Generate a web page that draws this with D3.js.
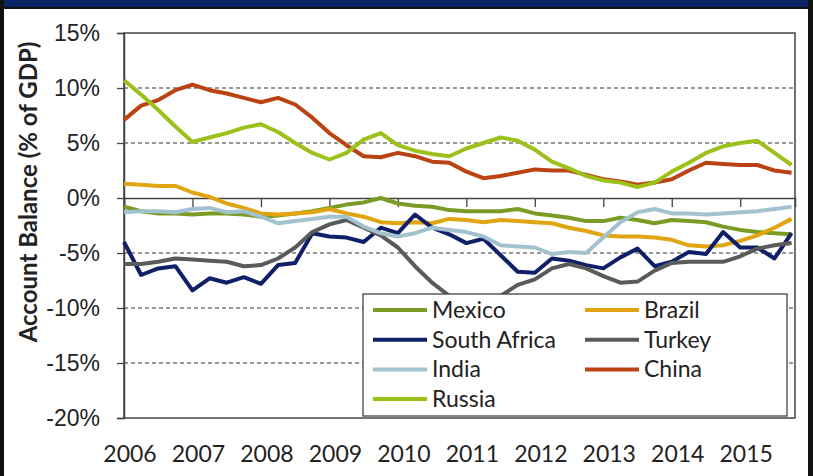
<!DOCTYPE html>
<html>
<head>
<meta charset="utf-8">
<script src="https://cdn.jsdelivr.net/npm/d3@7"></script>
<style>
  body { margin: 0; background: #fff; }
  svg { display: block; font-family: Lato, "Open Sans", sans-serif; }
</style>
</head>
<body>
<div id="chart"></div>
<script>
// quarterly current account balance, % of GDP, 2006Q1 .. 2015Q4
const mexico = [-0.8, -1.2, -1.4, -1.4, -1.5, -1.4, -1.4, -1.5, -1.7, -1.6, -1.4, -1.2, -0.9, -0.6, -0.4, 0.0, -0.5, -0.7, -0.8, -1.1,
                -1.2, -1.2, -1.2, -1.0, -1.4, -1.6, -1.8, -2.1, -2.1, -1.8, -2.0, -2.3, -2.0, -2.1, -2.2, -2.6, -2.9, -3.1, -3.2, -3.3];
const brazil = [1.3, 1.2, 1.1, 1.1, 0.5, 0.1, -0.5, -0.9, -1.4, -1.5, -1.4, -1.3, -1.0, -1.4, -1.7, -2.2, -2.3, -2.2, -2.3, -1.9,
                -2.0, -2.2, -2.0, -2.1, -2.2, -2.3, -2.7, -3.0, -3.4, -3.5, -3.5, -3.6, -3.8, -4.3, -4.4, -4.3, -3.9, -3.4, -2.7, -1.9];
const southAfrica = [-4.0, -7.0, -6.4, -6.2, -8.4, -7.3, -7.7, -7.2, -7.8, -6.1, -5.9, -3.2, -3.5, -3.6, -4.0, -2.7, -3.2, -1.5, -2.7, -3.3,
                -4.1, -3.7, -5.2, -6.7, -6.8, -5.5, -5.7, -6.1, -6.4, -5.4, -4.6, -6.2, -5.8, -4.9, -5.1, -3.1, -4.5, -4.5, -5.5, -3.2];
const turkey = [-6.0, -6.0, -5.8, -5.5, -5.6, -5.7, -5.8, -6.2, -6.1, -5.5, -4.5, -3.1, -2.4, -2.0, -2.7, -3.4, -4.5, -6.2, -7.7, -8.9,
                -9.8, -9.8, -8.9, -7.9, -7.4, -6.4, -6.0, -6.4, -7.1, -7.7, -7.6, -6.6, -5.9, -5.8, -5.8, -5.8, -5.3, -4.6, -4.3, -4.1];
const india = [-1.3, -1.2, -1.2, -1.3, -1.0, -0.9, -1.3, -1.2, -1.7, -2.3, -2.1, -1.9, -1.7, -1.7, -2.6, -3.2, -3.5, -3.2, -2.7, -2.9,
                -3.1, -3.5, -4.3, -4.4, -4.5, -5.1, -4.9, -5.0, -3.6, -2.2, -1.3, -1.0, -1.4, -1.4, -1.5, -1.4, -1.3, -1.2, -1.0, -0.8];
const china = [7.1, 8.4, 8.9, 9.8, 10.3, 9.8, 9.5, 9.1, 8.7, 9.1, 8.5, 7.3, 5.9, 4.8, 3.8, 3.7, 4.1, 3.8, 3.3, 3.2,
                2.4, 1.8, 2.0, 2.3, 2.6, 2.5, 2.5, 2.1, 1.7, 1.5, 1.2, 1.4, 1.7, 2.5, 3.2, 3.1, 3.0, 3.0, 2.5, 2.3];
const russia = [10.7, 9.4, 8.0, 6.5, 5.1, 5.5, 5.9, 6.4, 6.7, 6.0, 5.0, 4.1, 3.5, 4.1, 5.3, 5.9, 4.8, 4.3, 4.0, 3.8,
                4.5, 5.0, 5.5, 5.2, 4.4, 3.3, 2.7, 2.0, 1.6, 1.4, 1.0, 1.4, 2.4, 3.2, 4.1, 4.7, 5.0, 5.2, 4.1, 3.0];

const countries = ["Mexico", "Brazil", "South Africa", "Turkey", "India", "China", "Russia"];
const values = [mexico, brazil, southAfrica, turkey, india, china, russia];
const colors = ["#7a9c24", "#e2a512", "#0f1f68", "#5a5a5a", "#a3c2cf", "#bb4212", "#9cc11b"];
const years = [2006, 2007, 2008, 2009, 2010, 2011, 2012, 2013, 2014, 2015];
const yTicks = [15, 10, 5, 0, -5, -10, -15, -20];

const width = 813, height = 476;
const plotLeft = 124, plotRight = 795, plotTop = 33, plotBottom = 418;

const svg = d3.select("#chart").append("svg")
    .attr("width", width)
    .attr("height", height);

// frame
svg.append("rect").attr("width", width).attr("height", height).attr("fill", "#fff");
svg.append("rect").attr("width", width).attr("height", 7).attr("fill", "#0b2463");
svg.append("rect").attr("y", 7).attr("width", width).attr("height", 2).attr("fill", "#111");
svg.append("rect").attr("width", 4).attr("height", height).attr("fill", "#111");
svg.append("rect").attr("x", width - 5).attr("width", 5).attr("height", height).attr("fill", "#111");

const x = d3.scaleLinear().domain([2006, 2015.8]).range([plotLeft, plotRight]);
const y = d3.scaleLinear().domain([-20, 15]).range([plotBottom, plotTop]);

// dashed gridlines
svg.append("g")
    .selectAll("line")
    .data(yTicks.filter(d => d !== 0 && d !== 15 && d !== -20))
    .join("line")
    .attr("x1", plotLeft).attr("x2", plotRight)
    .attr("y1", d => y(d)).attr("y2", d => y(d))
    .attr("stroke", "#333")
    .attr("stroke-width", 1.2)
    .attr("stroke-dasharray", "4,3");

// plot border
svg.append("rect")
    .attr("x", plotLeft).attr("y", plotTop)
    .attr("width", plotRight - plotLeft).attr("height", plotBottom - plotTop)
    .attr("fill", "none")
    .attr("stroke", "#444")
    .attr("stroke-width", 1.5);

// y axis
const yAxis = svg.append("g")
    .attr("transform", `translate(${plotLeft},0)`)
    .call(d3.axisLeft(y).tickValues(yTicks).tickSize(7).tickFormat(d => d + "%"));
yAxis.select(".domain").attr("stroke", "#444").attr("stroke-width", 1.5);
yAxis.selectAll(".tick line").attr("stroke", "#444").attr("stroke-width", 1.3);
yAxis.selectAll(".tick text")
    .attr("x", -24)
    .attr("fill", "#222")
    .style("font-size", "23px");

// category axis at 0%
const xAxis = svg.append("g")
    .attr("transform", `translate(0,${y(0)})`)
    .call(d3.axisBottom(x).tickValues(years).tickSize(9).tickFormat(""));
xAxis.select(".domain").attr("stroke", "#444").attr("stroke-width", 1.5);
xAxis.selectAll(".tick line").attr("stroke", "#444").attr("stroke-width", 1.3);

// year labels under the plot
svg.append("g")
    .selectAll("text")
    .data(years)
    .join("text")
    .attr("x", d => x(d) + 6)
    .attr("y", 462)
    .attr("text-anchor", "middle")
    .attr("fill", "#222")
    .style("font-size", "23px")
    .text(d => d);

// y title
svg.append("text")
    .attr("transform", `translate(37,192) rotate(-90)`)
    .attr("text-anchor", "middle")
    .attr("fill", "#222")
    .style("font-size", "24px")
    .style("font-weight", "bold")
    .text("Account Balance (% of GDP)");

// lines
const line = d3.line()
    .x((d, i) => x(2006 + i / 4))
    .y(d => y(d));

svg.append("g")
    .selectAll("path")
    .data(values)
    .join("path")
    .attr("d", line)
    .attr("fill", "none")
    .attr("stroke", (d, i) => colors[i])
    .attr("stroke-width", 4)
    .attr("stroke-linejoin", "round");

// legend
const legend = svg.append("g");
legend.append("rect")
    .attr("x", 363).attr("y", 294)
    .attr("width", 424).attr("height", 122)
    .attr("fill", "#fff")
    .attr("stroke", "#444")
    .attr("stroke-width", 1.3);

const item = legend.selectAll("g.item")
    .data(countries)
    .join("g")
    .attr("class", "item")
    .attr("transform", (d, i) => `translate(${i % 2 ? 585 : 373},${310 + Math.floor(i / 2) * 29.7})`);
item.append("line")
    .attr("x1", 0).attr("x2", 54)
    .attr("stroke", (d, i) => colors[i])
    .attr("stroke-width", 4);
item.append("text")
    .attr("x", 59)
    .attr("y", 8)
    .attr("fill", "#222")
    .style("font-size", "23px")
    .text(d => d);
</script>
</body>
</html>
